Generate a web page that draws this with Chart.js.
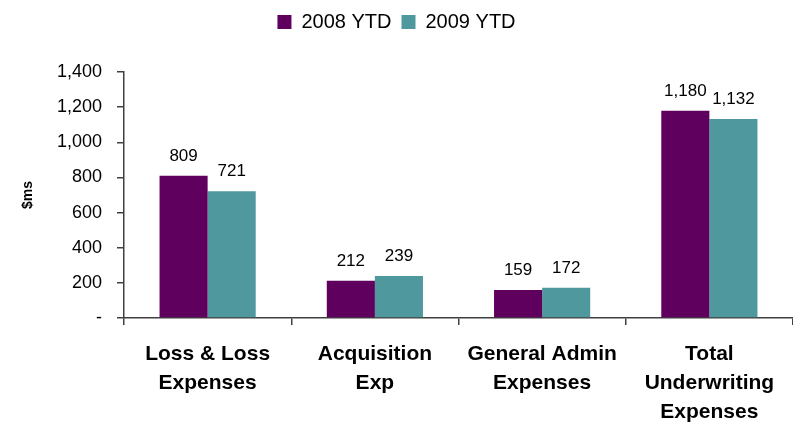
<!DOCTYPE html>
<html>
<head>
<meta charset="utf-8">
<script src="https://cdn.jsdelivr.net/npm/chart.js@4"></script>
<style>
  html, body { margin: 0; padding: 0; background: #fff; }
  #wrap { width: 793px; height: 424px; }
</style>
</head>
<body>
<div id="wrap"><canvas id="chart"></canvas></div>
<script>
const categories = [
    ['Loss & Loss', 'Expenses'],
    ['Acquisition', 'Exp'],
    ['General Admin', 'Expenses'],
    ['Total', 'Underwriting', 'Expenses']
];
const series2008 = [809, 212, 159, 1180];
const series2009 = [721, 239, 172, 1132];
const seriesNames = ['2008 YTD', '2009 YTD'];
const yTicks = [0, 200, 400, 600, 800, 1000, 1200, 1400];

const fontName = '"Liberation Sans", Arial, sans-serif';
const axisColor = '#404040';

// numbers above each bar
const barLabels = {
    id: 'barLabels',
    afterDatasetsDraw(chart) {
        const ctx = chart.ctx;
        ctx.save();
        ctx.font = '17px ' + fontName;
        ctx.fillStyle = '#000';
        ctx.textAlign = 'center';
        ctx.textBaseline = 'bottom';
        chart.data.datasets.forEach((ds, i) => {
            chart.getDatasetMeta(i).data.forEach((bar, j) => {
                ctx.fillText(ds.data[j].toLocaleString('en-US'), bar.x, bar.y - 11);
            });
        });
        ctx.restore();
    }
};

// leave more room under the legend
const legendGap = {
    id: 'legendGap',
    beforeUpdate(chart) {
        const lg = chart.legend;
        if (lg && !lg._gapDone) {
            const fit = lg.fit;
            lg.fit = function () {
                fit.call(this);
                this.height += 30;
            };
            lg._gapDone = true;
        }
    }
};

const ctx = document.getElementById('chart').getContext('2d');
const chart = new Chart(ctx, {
    type: 'bar',
    data: {
        labels: categories,
        datasets: [{
            label: seriesNames[0],
            backgroundColor: 'rgb(96, 0, 94)',
            data: series2008
        }, {
            label: seriesNames[1],
            backgroundColor: 'rgb(79, 153, 158)',
            data: series2009
        }]
    },
    options: {
        responsive: true,
        maintainAspectRatio: false,
        animation: false,
        layout: { padding: { top: 2, right: 0, left: 0, bottom: 0 } },
        datasets: { bar: { categoryPercentage: 0.575, barPercentage: 1.0 } },
        plugins: {
            legend: {
                position: 'top',
                labels: {
                    font: { family: fontName, size: 20 },
                    color: '#000',
                    boxWidth: 14,
                    boxHeight: 14,
                    padding: 10
                }
            },
            tooltip: { enabled: false }
        },
        scales: {
            x: {
                grid: { display: true, drawOnChartArea: false, offset: true, tickLength: 7, color: axisColor, lineWidth: 1.5 },
                border: { color: axisColor, width: 1.5 },
                ticks: {
                    font: { family: fontName, size: 21, weight: 'bold', lineHeight: 1.38 },
                    color: '#000',
                    padding: 15,
                    maxRotation: 0
                },
                afterFit(s) { s.height = 106; }
            },
            y: {
                min: 0,
                max: 1400,
                afterBuildTicks(s) { s.ticks = yTicks.map(v => ({ value: v })); },
                grid: { display: true, drawOnChartArea: false, tickLength: 7, color: axisColor, lineWidth: 1.5 },
                border: { color: axisColor, width: 1.5 },
                ticks: {
                    font: { family: fontName, size: 18 },
                    color: '#000',
                    padding: 15,
                    callback: v => v === 0 ? '-' : v.toLocaleString('en-US')
                },
                title: {
                    display: true,
                    text: '$ms',
                    font: { family: fontName, size: 14, weight: 'bold' },
                    color: '#000',
                    padding: { top: 20, bottom: 0 }
                },
                afterFit(s) { s.width = 124; }
            }
        }
    },
    plugins: [barLabels, legendGap]
});
</script>
</body>
</html>
